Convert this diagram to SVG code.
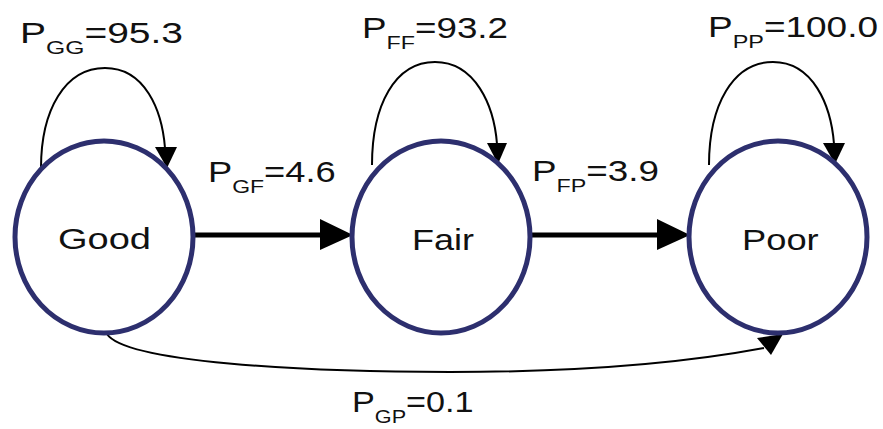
<svg xmlns="http://www.w3.org/2000/svg" width="883" height="429" viewBox="0 0 883 429">
<style>
.state{fill:#fff;stroke:#2d2f6e;stroke-width:5}
.lbl{font-family:"Liberation Sans",Arial,sans-serif;font-size:30px;fill:#111}
.sub{font-size:19px}
.thin{fill:none;stroke:#000;stroke-width:2}
.thick{fill:none;stroke:#000;stroke-width:5}
.head{fill:#000}
</style>
<rect width="883" height="429" fill="#fff"/>
<g id="connectors">
<path class="thin" d="M41,168 C41,110 65,68 105,68 C145,68 162,110 165,148"/>
<polygon class="head" points="155,147 177,147 167,168"/>
<path class="thin" d="M372,165 C372,105 395,62 435,62 C475,62 494,105 497,144"/>
<polygon class="head" points="487,143 507,143 498,164"/>
<path class="thin" d="M709,165 C709,105 733,62 773,62 C813,62 831,105 834,144"/>
<polygon class="head" points="823,143 845,143 835,164"/>
<path class="thick" d="M193,235 L322,235"/>
<polygon class="head" points="320,219 353,235 320,250"/>
<path class="thick" d="M530,235 L659,235"/>
<polygon class="head" points="657,219 690,235 657,250"/>
<path class="thin" d="M107,334 C125,362 300,372 450,372 C600,372 700,360 764,348"/>
<polygon class="head" points="757,338 783,334 771,355"/>
</g>
<g id="good"><ellipse class="state" cx="104" cy="237" rx="89" ry="96"/><text class="lbl" transform="matrix(1.267,0,0,1,58,249)">Good</text></g>
<g id="fair"><ellipse class="state" cx="441" cy="237" rx="89" ry="96"/><text class="lbl" transform="matrix(1.2,0,0,1,412,250)">Fair</text></g>
<g id="poor"><ellipse class="state" cx="778" cy="237" rx="89" ry="96"/><text class="lbl" transform="matrix(1.21,0,0,1,742,250)">Poor</text></g>
<g id="labels">
<text class="lbl" transform="matrix(1.3,0,0,1,20,43)">P<tspan class="sub" dy="11">GG</tspan><tspan dy="-11">=95.3</tspan></text>
<text class="lbl" transform="matrix(1.226,0,0,1,362,38)">P<tspan class="sub" dy="11">FF</tspan><tspan dy="-11">=93.2</tspan></text>
<text class="lbl" transform="matrix(1.233,0,0,1,708,37)">P<tspan class="sub" dy="11">PP</tspan><tspan dy="-11">=100.0</tspan></text>
<text class="lbl" transform="matrix(1.21,0,0,1,208,182)">P<tspan class="sub" dy="11">GF</tspan><tspan dy="-11">=4.6</tspan></text>
<text class="lbl" transform="matrix(1.227,0,0,1,532,181)">P<tspan class="sub" dy="11">FP</tspan><tspan dy="-11">=3.9</tspan></text>
<text class="lbl" transform="matrix(1.14,0,0,1,352,412)">P<tspan class="sub" dy="11">GP</tspan><tspan dy="-11">=0.1</tspan></text>
</g>
</svg>
